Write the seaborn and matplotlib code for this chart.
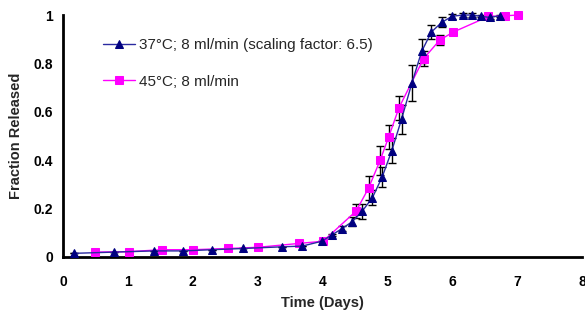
import numpy as np
import pandas as pd
import seaborn as sns
import matplotlib.pyplot as plt

# 37C series (scaled)
days_37 = [0.17, 0.78, 1.40, 1.85, 2.30, 2.78, 3.38, 3.69, 3.99, 4.14, 4.30, 4.46, 4.61, 4.77,
           4.92, 5.07, 5.22, 5.38, 5.53, 5.68, 5.84, 6.00, 6.16, 6.30, 6.44, 6.58, 6.73]
frac_37 = [0.015, 0.02, 0.025, 0.025, 0.03, 0.035, 0.042, 0.045, 0.065, 0.09, 0.117, 0.146, 0.188, 0.245,
           0.33, 0.44, 0.57, 0.72, 0.85, 0.93, 0.97, 0.995, 1.0, 1.0, 0.995, 0.99, 0.997]
err_37 = [0, 0, 0, 0, 0, 0, 0, 0, 0, 0.005, 0.01, 0.02, 0.03, 0.03,
          0.04, 0.05, 0.06, 0.075, 0.05, 0.03, 0.02, 0.01, 0.01, 0.01, 0.005, 0.005, 0.005]

# 45C series
days_45 = [0.50, 1.01, 1.53, 2.01, 2.54, 3.01, 3.64, 4.01, 4.52, 4.71, 4.89, 5.02, 5.18, 5.56,
           5.81, 6.02, 6.56, 6.81, 7.02]
frac_45 = [0.02, 0.022, 0.03, 0.03, 0.035, 0.04, 0.056, 0.065, 0.19, 0.284, 0.40, 0.495, 0.617, 0.82,
           0.897, 0.93, 0.994, 0.997, 1.0]
err_45 = [0, 0, 0, 0, 0, 0, 0, 0.005, 0.03, 0.05, 0.06, 0.05, 0.05, 0.03,
          0.02, 0.01, 0.01, 0.01, 0]

label_37 = "37°C; 8 ml/min (scaling factor: 6.5)"
label_45 = "45°C; 8 ml/min"

sns.set_style("white")
plt.rcParams['font.family'] = ['Liberation Sans', 'DejaVu Sans']

df37 = pd.DataFrame({'day': days_37, 'frac': frac_37})
df45 = pd.DataFrame({'day': days_45, 'frac': frac_45})

fig = plt.figure(figsize=(5.85, 3.2), dpi=100)
ax = fig.add_axes([0.1077, 0.197, 0.887, 0.756])

# error bars (black caps)
for xs, ys, es in [(days_37, frac_37, err_37), (days_45, frac_45, err_45)]:
    eb = ax.errorbar(xs, ys, yerr=es, fmt='none', ecolor='black', elinewidth=1,
                     capsize=3, capthick=1, zorder=2)
    for art in eb.get_children():
        art.set_clip_on(False)

sns.lineplot(data=df37, x='day', y='frac', ax=ax, color='#2a2aa0', linewidth=1,
             marker='^', markersize=6, markerfacecolor='#000080', markeredgecolor='#000080',
             label=label_37, zorder=4, clip_on=False)
sns.lineplot(data=df45, x='day', y='frac', ax=ax, color='#ff00ff', linewidth=1,
             marker='s', markersize=5.5, markerfacecolor='#ff00ff', markeredgecolor='#ff00ff',
             label=label_45, zorder=3, clip_on=False)

ax.set_xlim(0, 8)
ax.set_ylim(0, 1)
ax.set_xticks(range(0, 9))
ax.set_yticks([0, 0.2, 0.4, 0.6, 0.8, 1])
ax.set_yticklabels(['0', '0.2', '0.4', '0.6', '0.8', '1'])
ax.tick_params(axis='both', direction='out', length=4, width=1.5, labelsize=10, colors='black')
ax.tick_params(axis='x', pad=9)
ax.tick_params(axis='y', pad=3)
for lbl in ax.get_xticklabels() + ax.get_yticklabels():
    lbl.set_fontweight('bold')

sns.despine(ax=ax)
for s in ['left', 'bottom']:
    ax.spines[s].set_linewidth(2)
    ax.spines[s].set_color('black')

ax.set_xlabel("Time (Days)", fontsize=10.5, fontweight='bold', labelpad=5)
ax.set_ylabel("Fraction Released", fontsize=10.5, fontweight='bold', labelpad=8)

ax.legend(loc='upper left', bbox_to_anchor=(0.05, 0.96), frameon=False, fontsize=11,
          handlelength=2.1, labelspacing=1.45, handletextpad=0.3)

fig.savefig("out.png", dpi=100)
